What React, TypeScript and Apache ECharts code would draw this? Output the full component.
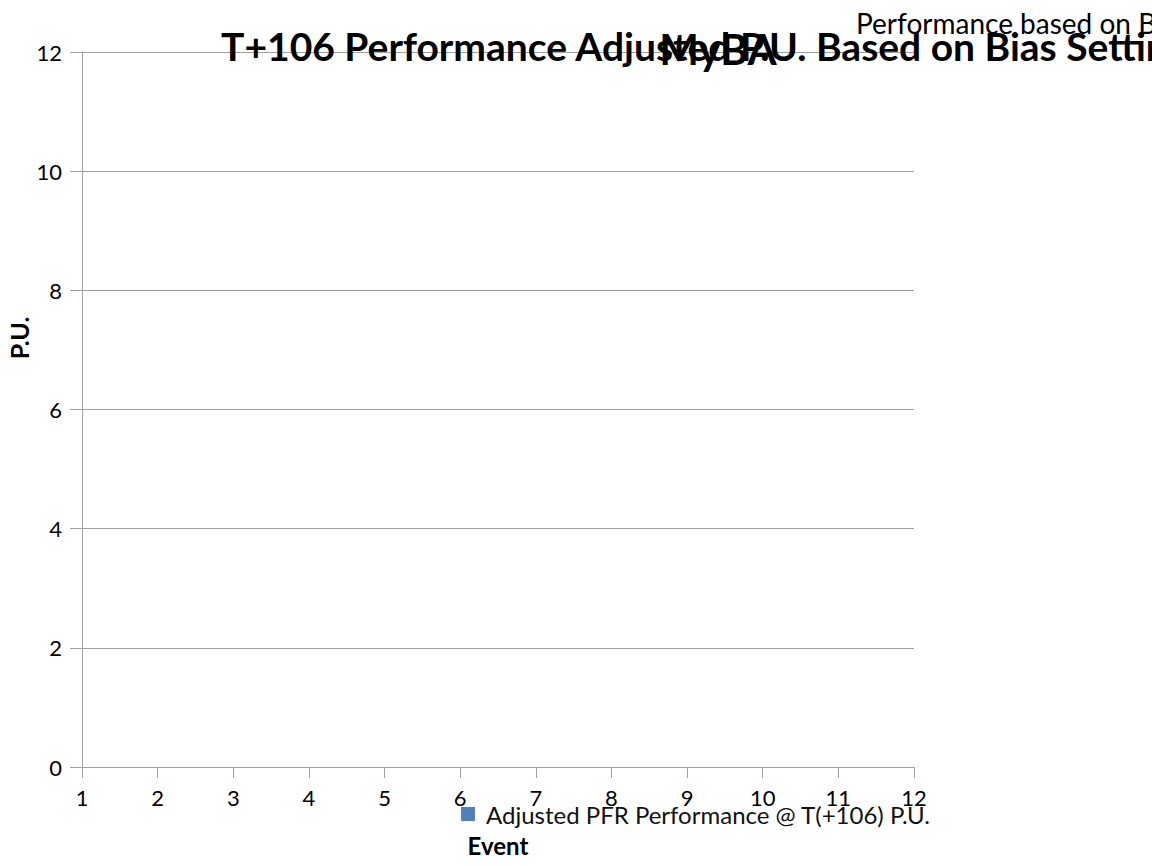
import React, { useEffect, useRef } from "react";
import * as echarts from "echarts";

// ---- data ----
const chartTitle = "T+106 Performance Adjusted P.U. Based on Bias Setting";
const chartSubtitle = "Performance based on Bias Setting";
const overlayLabel = "MyBA";
const seriesName = "Adjusted PFR Performance @ T(+106) P.U.";
const xAxisName = "Event";
const yAxisName = "P.U.";
const xRange = [1, 12];
const xStep = 1;
const yRange = [0, 12];
const yStep = 2;
// the series holds no points in the reference
const seriesValues: [number, number][] = [];

const FONT = "Lato, 'Open Sans', sans-serif";
const GRID_COLOR = "#a0a0a0";

export default function App() {
  const ref = useRef<HTMLDivElement>(null);
  useEffect(() => {
    if (!ref.current) return;
    const chart = echarts.init(ref.current, undefined, { renderer: "svg" });
    chart.setOption({
      animation: false,
      backgroundColor: "#ffffff",
      textStyle: { fontFamily: FONT },
      grid: { left: 82, right: 238, top: 52, bottom: 99, containLabel: false },
      legend: {
        show: true,
        left: 461,
        top: 802,
        padding: 0,
        icon: "rect",
        itemWidth: 14,
        itemHeight: 14,
        itemGap: 10,
        textStyle: {
          fontFamily: FONT,
          fontSize: 24,
          color: "#111",
          padding: [0, 0, 0, 6],
        },
        data: [seriesName],
      },
      xAxis: {
        type: "value",
        min: xRange[0],
        max: xRange[1],
        interval: xStep,
        name: xAxisName,
        nameLocation: "middle",
        nameGap: 66,
        nameTextStyle: { fontFamily: FONT, fontSize: 24, fontWeight: "bold", color: "#000" },
        axisLine: { show: true, onZero: false, lineStyle: { color: GRID_COLOR, width: 1 } },
        axisTick: { show: true, inside: false, length: 11, lineStyle: { color: GRID_COLOR } },
        axisLabel: { fontFamily: FONT, fontSize: 22, color: "#000", margin: 19 },
        splitLine: { show: false },
      },
      yAxis: {
        type: "value",
        min: yRange[0],
        max: yRange[1],
        interval: yStep,
        axisLine: { show: true, lineStyle: { color: GRID_COLOR, width: 1 } },
        axisTick: { show: true, inside: false, length: 12, lineStyle: { color: GRID_COLOR } },
        axisLabel: { fontFamily: FONT, fontSize: 22, color: "#000", margin: 20 },
        splitLine: { show: true, lineStyle: { color: GRID_COLOR, width: 1 } },
      },
      series: [
        {
          name: seriesName,
          type: "bar",
          data: seriesValues,
          itemStyle: { color: "#4f81bd" },
        },
      ],
      graphic: [
        {
          type: "text",
          x: 19,
          y: 338,
          rotation: Math.PI / 2,
          style: {
            text: yAxisName,
            font: `bold 25px ${FONT}`,
            fill: "#000",
            verticalAlign: "middle",
            align: "center",
          },
        },
        {
          type: "text",
          x: 856,
          y: 23,
          z: 10,
          style: {
            text: chartSubtitle,
            font: `28px ${FONT}`,
            fill: "#000",
            verticalAlign: "middle",
            align: "left",
          },
        },
        {
          type: "text",
          x: 221,
          y: 46,
          z: 11,
          style: {
            text: chartTitle,
            font: `bold 39px ${FONT}`,
            fill: "#000",
            verticalAlign: "middle",
            align: "left",
          },
        },
        {
          type: "text",
          x: 718,
          y: 49,
          z: 12,
          style: {
            text: overlayLabel,
            font: `bold 42px ${FONT}`,
            fill: "#000",
            verticalAlign: "middle",
            align: "center",
          },
        },
      ],
    });
    return () => chart.dispose();
  }, []);
  return (
    <div
      ref={ref}
      style={{ position: "absolute", left: 0, top: 0, width: 1152, height: 866, overflow: "hidden" }}
    />
  );
}
